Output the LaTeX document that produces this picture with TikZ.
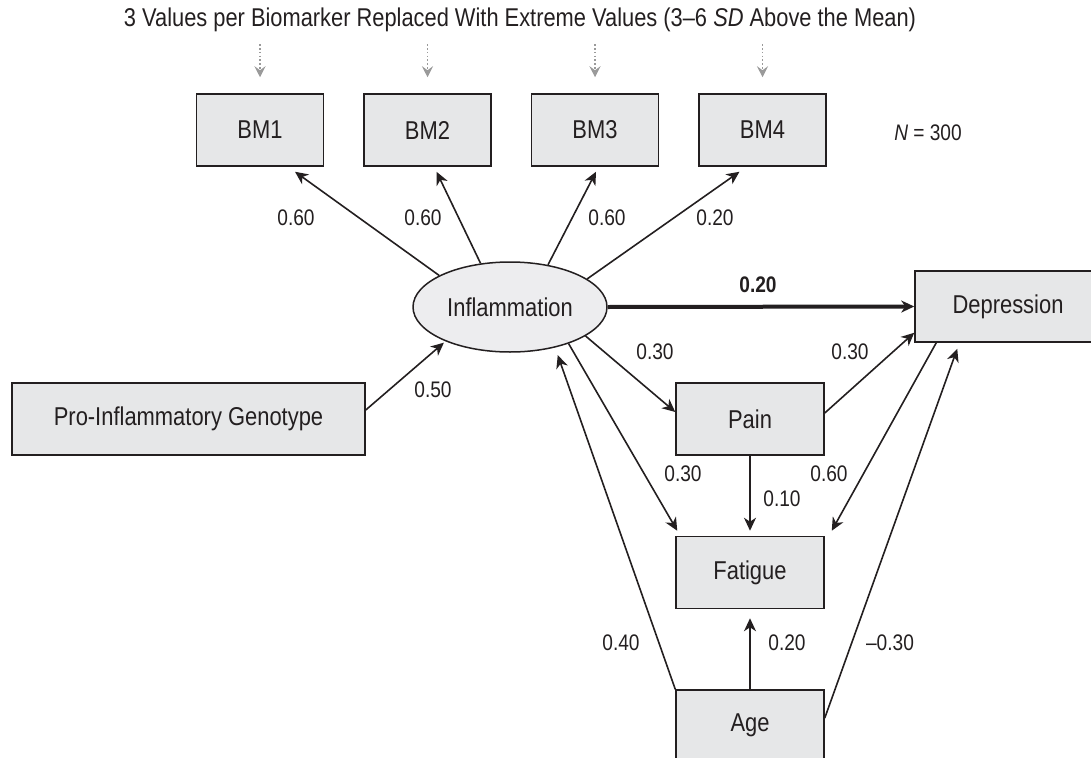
\documentclass[tikz,border=0pt]{standalone}
\usepackage{fontspec}
\setmainfont{Liberation Sans}[FakeStretch=0.85]
\usetikzlibrary{arrows.meta, positioning, shapes.geometric}
\definecolor{inkc}{HTML}{231F20}
\definecolor{boxfill}{HTML}{E6E7E8}
\definecolor{ellfill}{HTML}{EDEDEF}
\definecolor{hintgray}{HTML}{9A9A9A}
\newcommand\titlefont{\fontsize{25.7}{30}\selectfont}
\newcommand\labfont{\fontsize{25.8}{30}\selectfont}
\newcommand\coeffont{\fontsize{22.5}{26}\selectfont}
\tikzset{
    >={Stealth[length=13pt, width=12pt, inset=4pt]}, % filled heads
    var/.style={draw=inkc, fill=boxfill, line width=1.5pt, text=inkc, font=\labfont,
        minimum width=127pt, minimum height=72pt, inner sep=0pt}, % observed variable
    latent/.style={ellipse, draw=inkc, fill=ellfill, line width=1.5pt, text=inkc, font=\labfont,
        minimum width=194pt, minimum height=90pt, inner sep=0pt}, % latent variable
    path/.style={->, draw=inkc, line width=1.6pt},
    hint/.style={-{Stealth[length=11pt, width=11pt, inset=4pt]}, draw=hintgray, line width=1.4pt,
        dash pattern=on 1.6pt off 2.2pt},
    coef/.style={text=inkc, font=\coeffont, inner sep=0pt},
}
\begin{document}
\begin{tikzpicture}[x=1pt, y=-1pt]
\useasboundingbox (0,0) rectangle (1091,757);
\node[text=inkc, font=\titlefont] (title) at (520,20)
    {3 Values per Biomarker Replaced With Extreme Values (3--6 \textit{SD} Above the Mean)};
% indicators
\node[var] (bm1) at (260,130) {BM1};
\node[var, right=39pt of bm1] (bm2) {BM2};
\node[var, right=39pt of bm2] (bm3) {BM3};
\node[var, right=39pt of bm3] (bm4) {BM4};
\node[text=inkc, font=\coeffont] (n) at (928,133) {\textit{N} = 300};
\foreach \i in {1,...,4}
    \draw[hint] ([yshift=49pt]bm\i.north) -- ([yshift=16pt]bm\i.north);
% structural part
\node[latent] (infl) at (510,307) {Inflammation};
\node[var, minimum width=353pt] (geno) at (188.5,419) {Pro-Inflammatory Genotype};
\node[var, minimum width=186pt, minimum height=71pt] (dep) at (1008,306.5) {Depression};
\node[var, minimum width=148pt] (pain) at (750,419) {Pain};
\node[var, minimum width=148pt, below=80pt of pain] (fatigue) {Fatigue};
\node[var, minimum width=148pt, minimum height=70pt, below=80pt of fatigue] (age) {Age};

\draw[path] (infl.156) -- ([xshift=35pt, yshift=-5pt]bm1.south);
\draw[path] (infl.124) -- ([xshift=9pt, yshift=-5pt]bm2.south);
\draw[path] (infl.48) -- ([xshift=1pt, yshift=-5pt]bm3.south);
\draw[path] (infl.20) -- ([xshift=-23pt, yshift=-5pt]bm4.south);
\draw[path, line width=4pt] (infl.east) -- (dep.west);
\draw[path, shorten >=2pt] ([yshift=9pt]geno.east) -- (infl.208);
\draw[path] (infl.-21) -- ([yshift=7pt]pain.west);
\draw[path] (infl.-32) -- ([xshift=2pt, yshift=5pt]fatigue.north west);
\draw[path] ([yshift=6pt]pain.east) -- ([yshift=10pt]dep.south west);
\draw[path] (pain.south) -- ([yshift=5pt]fatigue.north);
\draw[path] ([xshift=22pt]dep.south west) -- ([xshift=7pt, yshift=5pt]fatigue.north east);
\draw[path] (age.north) -- ([yshift=-9pt]fatigue.south);
\draw[path, shorten >=8pt] (age.north west) -- (infl.-42);
\draw[path] ([yshift=7pt]age.east) -- ([xshift=43pt, yshift=-6pt]dep.south west);

% coefficients
\node[coef] (c-bm1) at (296,218) {0.60};
\node[coef] (c-bm2) at (423,218) {0.60};
\node[coef] (c-bm3) at (607,218) {0.60};
\node[coef] (c-bm4) at (715,218) {0.20};
\node[coef, font=\coeffont\bfseries] (c-dep) at (758,285) {0.20};
\node[coef] (c-geno) at (433,390) {0.50};
\node[coef] (c-pain) at (655,352) {0.30};
\node[coef] (c-paindep) at (850,352) {0.30};
\node[coef] (c-fat) at (683,474) {0.30};
\node[coef] (c-depfat) at (829,474) {0.60};
\node[coef] (c-painfat) at (782,499) {0.10};
\node[coef] (c-ageinfl) at (621,643) {0.40};
\node[coef] (c-agefat) at (787,643) {0.20};
\node[coef] (c-agedep) at (890,643) {--0.30};
\end{tikzpicture}
\end{document}
